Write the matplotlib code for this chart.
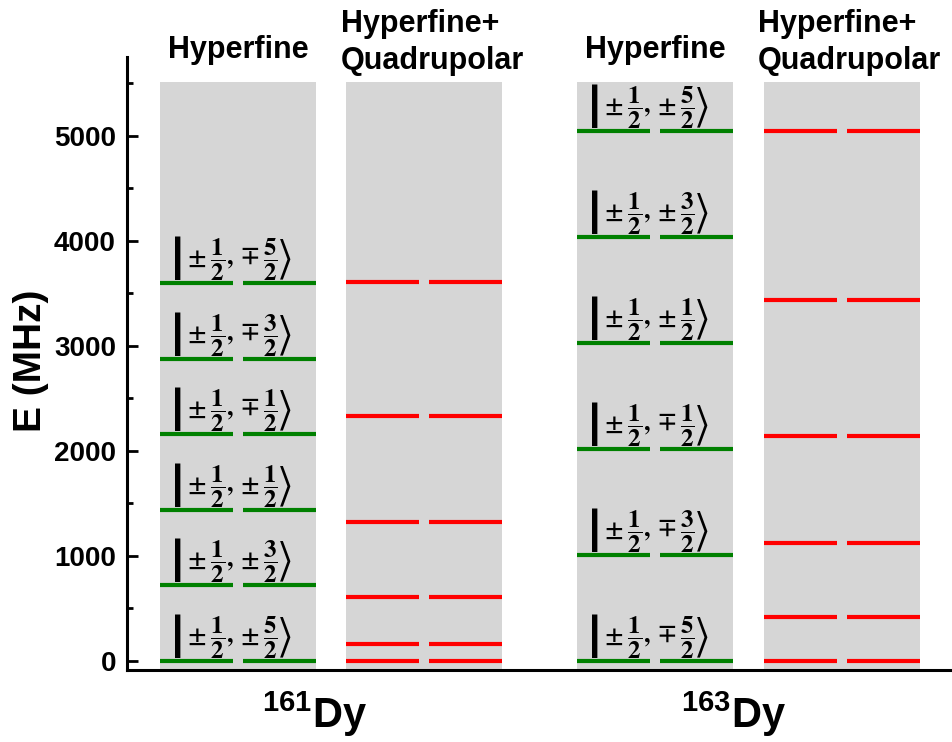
import numpy as np
import matplotlib.pyplot as plt
from matplotlib.ticker import MultipleLocator

plt.rcParams['font.family'] = ['Liberation Sans', 'DejaVu Sans']
plt.rcParams['font.weight'] = 'bold'
plt.rcParams['mathtext.fontset'] = 'custom'
plt.rcParams['mathtext.bf'] = 'Liberation Sans:bold'
plt.rcParams['mathtext.rm'] = 'Liberation Sans:bold'

# energy levels (MHz)
hf161 = [0, 720, 1440, 2160, 2880, 3600]
hq161 = [0, 160, 610, 1320, 2330, 3610]
hf163 = [0, 1010, 2020, 3030, 4040, 5050]
hq163 = [0, 420, 1120, 2140, 3440, 5050]

# ket labels (sign of second, numerator of second)
kets161 = [('pm', '5'), ('pm', '3'), ('pm', '1'), ('mp', '1'), ('mp', '3'), ('mp', '5')]
kets163 = [('mp', '5'), ('mp', '3'), ('mp', '1'), ('pm', '1'), ('pm', '3'), ('pm', '5')]

headers = ['Hyperfine', 'Hyperfine+\nQuadrupolar', 'Hyperfine', 'Hyperfine+\nQuadrupolar']
isotopes = [r'$\mathbf{^{161}Dy}$', r'$\mathbf{^{163}Dy}$']

W, H = 953, 742
fig = plt.figure(figsize=(W / 100, H / 100), dpi=100)
ax = fig.add_axes([127 / W, (H - 670) / H, 1 - 127 / W, 613 / H])

ybot, ytop = -86, 5752
ax.set_ylim(ybot, ytop)
ax.set_xlim(0, 826 / 156)

centers = [0.712, 1.907, 3.385, 4.583]
panel_top = 5514
ax.bar(centers, panel_top - ybot, bottom=ybot, width=1.0, color='#d6d6d6', zorder=0)

gap = 0.032
def levels(c, vals, color):
    ax.hlines(vals, c - 0.5, c - gap, colors=color, lw=3, zorder=2)
    ax.hlines(vals, c + gap, c + 0.5, colors=color, lw=3, zorder=2)

levels(centers[0], hf161, '#008000')
levels(centers[1], hq161, '#ff0000')
levels(centers[2], hf163, '#008000')
levels(centers[3], hq163, '#ff0000')

def ket(s2, n2):
    return (r'$\left|\pm\dfrac{\mathbf{1}}{\mathbf{2}},\%s\dfrac{\mathbf{%s}}{\mathbf{2}}\right\rangle$'
            % (s2, n2))

for c, vals, kets in [(centers[0], hf161, kets161), (centers[2], hf163, kets163)]:
    for v, (s2, n2) in zip(vals, kets):
        ax.text(c - 0.045, v + 10, ket(s2, n2), ha='center', va='bottom', fontsize=18,
                fontweight='normal', math_fontfamily='stix', zorder=3)

for c, h in zip(centers, headers):
    if '\n' in h:
        ax.text(c + 0.05, 0.969, h, transform=ax.get_xaxis_transform(), ha='center', va='bottom',
                fontsize=22, multialignment='left', linespacing=1.3, clip_on=False)
    else:
        ax.text(c, 0.987, h, transform=ax.get_xaxis_transform(), ha='center', va='bottom',
                fontsize=22, clip_on=False)

for x, lab in zip([315, 734], isotopes):
    fig.text(x / W, 1 - 728 / H, lab, ha='center', va='baseline', fontsize=30)

fig.text(31 / W, 1 - 361 / H, 'E (MHz)', rotation=90, ha='center', va='center', fontsize=28)

for s in ['top', 'right']:
    ax.spines[s].set_visible(False)
for s in ['left', 'bottom']:
    ax.spines[s].set_linewidth(2.2)
ax.set_xticks([])
ax.yaxis.set_major_locator(MultipleLocator(1000))
ax.yaxis.set_minor_locator(MultipleLocator(500))
ax.set_yticks(np.arange(0, 5001, 1000))
ax.tick_params(axis='y', which='major', direction='in', length=8, width=2, labelsize=20, pad=8)
ax.tick_params(axis='y', which='minor', direction='in', length=4.5, width=2)

fig.savefig('out.png', dpi=100)
